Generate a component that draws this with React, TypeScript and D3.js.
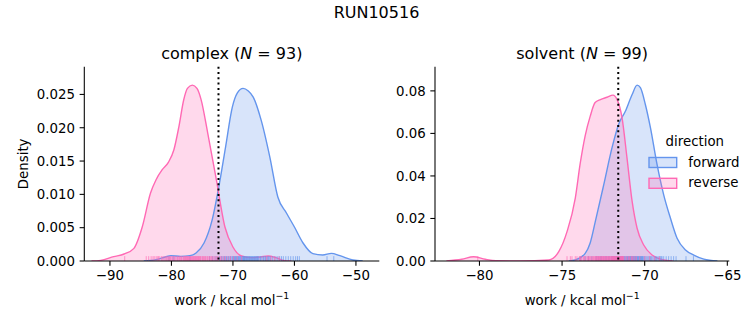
import React from "react";
import * as d3 from "d3";

// ---------- data ----------
const suptitle = "RUN10516";
const panelNames = ["complex", "solvent"];
const panelN = [93, 99];
const dottedLineX = [-72.35, -71.6];

const complexXTicks = [-90, -80, -70, -60, -50];
const complexYTicks = [0, 0.005, 0.01, 0.015, 0.02, 0.025];
const solventXTicks = [-80, -75, -70, -65];
const solventYTicks = [0, 0.02, 0.04, 0.06, 0.08];

// KDE curves: [work, density]
const complexForwardCurve: [number, number][] = [
  [-84.5, 0], [-82.5, 0.0002], [-81, 0.0006], [-80.1, 0.0008], [-78.5, 0.0007], [-77, 0.0008],
  [-76, 0.0012], [-74.7, 0.0027], [-73.4, 0.0061], [-72.3, 0.0111], [-71.2, 0.0171], [-70.1, 0.0231],
  [-69.3, 0.0252], [-68.35, 0.0259], [-67.5, 0.0255], [-66.7, 0.0246], [-65.4, 0.0211], [-64.0, 0.0156],
  [-62.7, 0.0096], [-61.3, 0.0072], [-60.0, 0.0051], [-58.6, 0.0027], [-57.0, 0.0011], [-55.4, 0.0009],
  [-54.0, 0.00115], [-52.6, 0.0008], [-50.5, 0.00015], [-48.9, 0],
];
const complexReverseCurve: [number, number][] = [
  [-93.0, 0], [-91.5, 0.0001], [-89.4, 0.00065], [-87.7, 0.00105], [-86.1, 0.0019], [-84.75, 0.0051],
  [-83.4, 0.0102], [-82.5, 0.0122], [-81.5, 0.0137], [-80.5, 0.0148], [-79.6, 0.0167], [-78.8, 0.0201],
  [-78.0, 0.0242], [-77.4, 0.0259], [-76.6, 0.0264], [-75.85, 0.0259], [-75.2, 0.0243], [-74.1, 0.0192],
  [-72.7, 0.0122], [-71.3, 0.0051], [-70.0, 0.0021], [-68.6, 0.00075], [-67.0, 0.0005], [-65.5, 0.0006],
  [-64.3, 0.00075], [-63.0, 0.0005], [-61.8, 0.0001], [-60.5, 0],
];
const solventForwardCurve: [number, number][] = [
  [-74.6, 0], [-74.2, 0.0005], [-73.6, 0.0036], [-73.3, 0.0085], [-72.99, 0.0185], [-72.48, 0.0358],
  [-71.98, 0.0532], [-71.58, 0.0642], [-71.17, 0.0704], [-70.76, 0.0783], [-70.46, 0.0827], [-70.26, 0.0815],
  [-69.96, 0.0736], [-69.65, 0.0626], [-69.25, 0.0453], [-68.85, 0.0311], [-68.44, 0.0201], [-68.04, 0.0107],
  [-67.53, 0.0052], [-67.03, 0.0028], [-66.42, 0.0009], [-65.6, 0],
];
const solventReverseCurve: [number, number][] = [
  [-82.0, 0], [-81.07, 0.0008], [-80.36, 0.002], [-79.65, 0.0008], [-79.0, 0.0001], [-77.5, 0],
  [-75.8, 0.0005], [-75.2, 0.0044], [-74.7, 0.0138], [-74.2, 0.0296], [-73.9, 0.046], [-73.6, 0.059],
  [-73.3, 0.068], [-73.0, 0.0745], [-72.68, 0.0759], [-72.28, 0.077], [-71.92, 0.078], [-71.67, 0.0759],
  [-71.37, 0.0673], [-71.07, 0.0484], [-70.76, 0.028], [-70.46, 0.0154], [-70.06, 0.0075], [-69.55, 0.0028],
  [-69.05, 0.0009], [-68.3, 0],
];

// Rug samples (individual work values)
const complexForwardWork = [
  -80.4, -79.7, -77.0,
  -73.8, -73.3, -72.9, -72.6, -72.2,
  -71.9, -71.8, -71.6, -71.4, -71.3, -71.1, -71.0, -70.8, -70.7, -70.5, -70.4, -70.3, -70.1, -70.0,
  -69.9, -69.8, -69.7, -69.6, -69.5, -69.4, -69.3, -69.2, -69.1, -69.0, -68.9, -68.8, -68.7, -68.6, -68.5,
  -68.4, -68.3, -68.2, -68.2, -68.1, -68.0, -67.9,
  -67.8, -67.7, -67.6, -67.5, -67.4, -67.3, -67.2, -67.1, -67.0, -66.9, -66.8, -66.7, -66.6, -66.5, -66.4,
  -66.3, -66.2, -66.1, -66.0, -65.9,
  -65.8, -65.6, -65.5, -65.3, -65.1, -65.0, -64.8, -64.7, -64.5, -64.4, -64.2, -64.1,
  -63.9, -63.6, -63.3, -63.0, -62.7, -62.4, -62.1,
  -61.8, -61.4, -61.0, -60.6, -60.2,
  -59.8, -59.5, -59.2,
  -54.7, -53.6,
];
const complexReverseWork = [
  -87.6, -84.1, -83.7, -83.3, -83.0, -82.8, -82.5, -82.3, -82.1,
  -81.9, -81.6, -81.4, -81.2, -81.0, -80.8, -80.6, -80.5, -80.3, -80.2, -80.1, -79.9,
  -79.8, -79.6, -79.5, -79.3, -79.1, -79.0, -78.8, -78.7, -78.5, -78.4, -78.3, -78.1, -78.0, -77.9, -77.8, -77.7,
  -77.6, -77.5, -77.4, -77.3, -77.2, -77.1, -77.0, -76.9, -76.8, -76.7, -76.6, -76.5, -76.4, -76.3, -76.2,
  -76.1, -76.0, -75.9, -75.8, -75.7, -75.6, -75.5, -75.4, -75.3,
  -75.2, -75.0, -74.9, -74.8, -74.6, -74.5, -74.4, -74.2, -74.1, -73.9, -73.8, -73.6, -73.5, -73.3, -73.1,
  -72.9, -72.7, -72.5,
  -72.3, -72.0, -71.8, -71.5, -71.2, -70.8, -70.4, -69.9, -69.3, -68.6,
  -64.5, -63.8, -63.2, -62.5,
];
const solventForwardWork = [
  -73.9, -73.6, -73.4, -73.2,
  -72.95, -72.9, -72.8, -72.7, -72.65, -72.6, -72.5, -72.4, -72.35, -72.3, -72.2, -72.15, -72.1, -72.0,
  -71.97, -71.93, -71.9, -71.86, -71.82, -71.78, -71.74, -71.7, -71.66, -71.62, -71.58, -71.54, -71.5,
  -71.46, -71.42, -71.38, -71.34, -71.3, -71.26, -71.22, -71.18, -71.14, -71.1, -71.06, -71.03, -71.0,
  -70.97, -70.94, -70.91, -70.88, -70.85, -70.82, -70.79, -70.76, -70.73, -70.7, -70.67, -70.64, -70.61,
  -70.58, -70.55, -70.52, -70.49, -70.46, -70.43, -70.4, -70.37, -70.34, -70.31, -70.28, -70.25, -70.22,
  -70.19, -70.16, -70.13, -70.1, -70.05, -70.0,
  -69.93, -69.86, -69.79, -69.72, -69.65, -69.58, -69.5, -69.42, -69.35, -69.28, -69.2, -69.13, -69.06,
  -69.0, -68.95,
  -68.85, -68.7, -68.55, -68.4, -68.25, -68.1,
  -67.5, -67.05,
];
const solventReverseWork = [
  -80.1,
  -74.7, -74.5, -74.4, -74.2, -74.1,
  -73.95, -73.9, -73.85, -73.8, -73.7, -73.65, -73.6, -73.5, -73.45, -73.4, -73.35, -73.3, -73.25, -73.2,
  -73.15, -73.1, -73.05, -73.0,
  -72.97, -72.93, -72.9, -72.86, -72.83, -72.8, -72.76, -72.73, -72.7, -72.66, -72.63, -72.6, -72.56,
  -72.53, -72.5, -72.46, -72.43, -72.4, -72.36, -72.33, -72.3, -72.26, -72.23, -72.2, -72.16, -72.13,
  -72.1, -72.06, -72.03, -72.0,
  -71.97, -71.95, -71.92, -71.9, -71.88, -71.85, -71.83, -71.8, -71.78, -71.75, -71.73, -71.7, -71.68,
  -71.65, -71.63, -71.6, -71.58, -71.55, -71.53, -71.5, -71.48, -71.45, -71.43, -71.4, -71.38, -71.36,
  -71.34, -71.32, -71.31, -71.3,
  -71.2, -71.1, -71.0, -70.95, -70.9, -70.8, -70.75, -70.7, -70.6, -70.5,
  -70.3, -70.0, -69.7, -69.4, -69.1,
];

const legendTitle = "direction";
const legendLabels = ["forward", "reverse"];

// ---------- style ----------
const FONT = "DejaVu Sans, sans-serif";
const BLUE = "#6495ED";
const PINK = "#FF69B4";
const TICK_FS = 13.33;
const TITLE_FS = 16;

type PanelProps = {
  x0: number; x1: number; y0: number; y1: number;
  xDomain: [number, number]; yDomain: [number, number];
  xTicks: number[]; yTicks: number[]; yFmt: string;
  fwd: [number, number][]; rev: [number, number][];
  fwdRug: number[]; revRug: number[];
  vline: number; name: string; n: number; ylabel?: string;
};

function Panel(p: PanelProps) {
  const x = d3.scaleLinear().domain(p.xDomain).range([p.x0, p.x1]);
  const y = d3.scaleLinear().domain(p.yDomain).range([p.y1, p.y0]);
  const line = d3.line<[number, number]>().x(d => x(d[0])).y(d => y(d[1])).curve(d3.curveMonotoneX);
  const area = d3.area<[number, number]>().x(d => x(d[0])).y0(y(0)).y1(d => y(d[1])).curve(d3.curveMonotoneX);
  const fmt = d3.format(p.yFmt);
  const rugH = 0.025 * (p.y1 - p.y0);
  const cx = (p.x0 + p.x1) / 2;
  const tickLen = 4.67;
  const clipId = "clip-" + p.name;
  return (
    <g>
      <defs>
        <clipPath id={clipId}>
          <rect x={p.x0} y={p.y0} width={p.x1 - p.x0} height={p.y1 - p.y0} />
        </clipPath>
      </defs>
      <g clipPath={`url(#${clipId})`}>
        <path d={area(p.fwd) || ""} fill={BLUE} fillOpacity={0.25} />
        <path d={area(p.rev) || ""} fill={PINK} fillOpacity={0.25} />
        <path d={line(p.fwd) || ""} fill="none" stroke={BLUE} strokeWidth={1.4} />
        <path d={line(p.rev) || ""} fill="none" stroke={PINK} strokeWidth={1.4} />
        {p.fwdRug.map((v, i) => (
          <line key={"f" + i} x1={x(v)} x2={x(v)} y1={p.y1} y2={p.y1 - rugH} stroke={BLUE} strokeWidth={1} strokeOpacity={0.65} />
        ))}
        {p.revRug.map((v, i) => (
          <line key={"r" + i} x1={x(v)} x2={x(v)} y1={p.y1} y2={p.y1 - rugH} stroke={PINK} strokeWidth={1} strokeOpacity={0.65} />
        ))}
      </g>
      <line x1={x(p.vline)} x2={x(p.vline)} y1={p.y0} y2={p.y1} stroke="#000" strokeWidth={2} strokeDasharray="2 3.3" />
      {/* spines */}
      <line x1={p.x0} x2={p.x1} y1={p.y1} y2={p.y1} stroke="#000" strokeWidth={1.07} />
      <line x1={p.x0} x2={p.x0} y1={p.y0} y2={p.y1} stroke="#000" strokeWidth={1.07} />
      {p.xTicks.map(t => (
        <g key={"xt" + t}>
          <line x1={x(t)} x2={x(t)} y1={p.y1} y2={p.y1 + tickLen} stroke="#000" strokeWidth={1.07} />
          <text x={x(t)} y={p.y1 + tickLen + 4.67} dy="0.76em" textAnchor="middle" fontSize={TICK_FS} fontFamily={FONT} fill="#000">
            {t < 0 ? "\u2212" + Math.abs(t) : String(t)}
          </text>
        </g>
      ))}
      {p.yTicks.map(t => (
        <g key={"yt" + t}>
          <line x1={p.x0 - tickLen} x2={p.x0} y1={y(t)} y2={y(t)} stroke="#000" strokeWidth={1.07} />
          <text x={p.x0 - tickLen - 4.67} y={y(t)} dy="0.36em" textAnchor="end" fontSize={TICK_FS} fontFamily={FONT} fill="#000">
            {fmt(t)}
          </text>
        </g>
      ))}
      <text x={cx} y={58.7} textAnchor="middle" fontSize={TITLE_FS} fontFamily={FONT} fill="#000">
        {p.name + " ("}
        <tspan fontStyle="italic">N</tspan>
        {" = " + p.n + ")"}
      </text>
      <text x={cx} y={304.5} textAnchor="middle" fontSize={TICK_FS} fontFamily={FONT} fill="#000">
        work / kcal mol
        <tspan fontSize={9.4} dy={-5.5}>{"\u22121"}</tspan>
      </text>
      {p.ylabel && (
        <text transform={`translate(28,${(p.y0 + p.y1) / 2}) rotate(-90)`} textAnchor="middle" fontSize={TICK_FS} fontFamily={FONT} fill="#000">
          {p.ylabel}
        </text>
      )}
    </g>
  );
}

export default function App() {
  const colors = [BLUE, PINK];
  return (
    <svg width={753} height={325} style={{ position: "absolute", left: 0, top: 0, background: "#fff" }}>
      <rect width={753} height={325} fill="#fff" />
      <text x={376.5} y={18.3} textAnchor="middle" fontSize={TITLE_FS} fontFamily={FONT} fill="#000">{suptitle}</text>
      <Panel
        x0={84.3} x1={379.3} y0={66.7} y1={261}
        xDomain={[-94.17, -46.2]} yDomain={[0, 0.02916]}
        xTicks={complexXTicks} yTicks={complexYTicks} yFmt=".3f"
        fwd={complexForwardCurve} rev={complexReverseCurve}
        fwdRug={complexForwardWork} revRug={complexReverseWork}
        vline={dottedLineX[0]} name={panelNames[0]} n={panelN[0]} ylabel="Density"
      />
      <Panel
        x0={435} x1={729.3} y0={66.7} y1={261}
        xDomain={[-82.69, -64.88]} yDomain={[0, 0.09137]}
        xTicks={solventXTicks} yTicks={solventYTicks} yFmt=".2f"
        fwd={solventForwardCurve} rev={solventReverseCurve}
        fwdRug={solventForwardWork} revRug={solventReverseWork}
        vline={dottedLineX[1]} name={panelNames[1]} n={panelN[1]}
      />
      <g>
        <text x={694.8} y={146} textAnchor="middle" fontSize={TICK_FS} fontFamily={FONT} fill="#000">{legendTitle}</text>
        {legendLabels.map((lab, i) => (
          <g key={lab}>
            <rect x={649} y={157.5 + i * 20.8} width={27.7} height={10} fill={colors[i]} fillOpacity={0.25} stroke={colors[i]} strokeWidth={1.4} />
            <text x={688.3} y={166.5 + i * 20.8} fontSize={TICK_FS} fontFamily={FONT} fill="#000">{lab}</text>
          </g>
        ))}
      </g>
    </svg>
  );
}
